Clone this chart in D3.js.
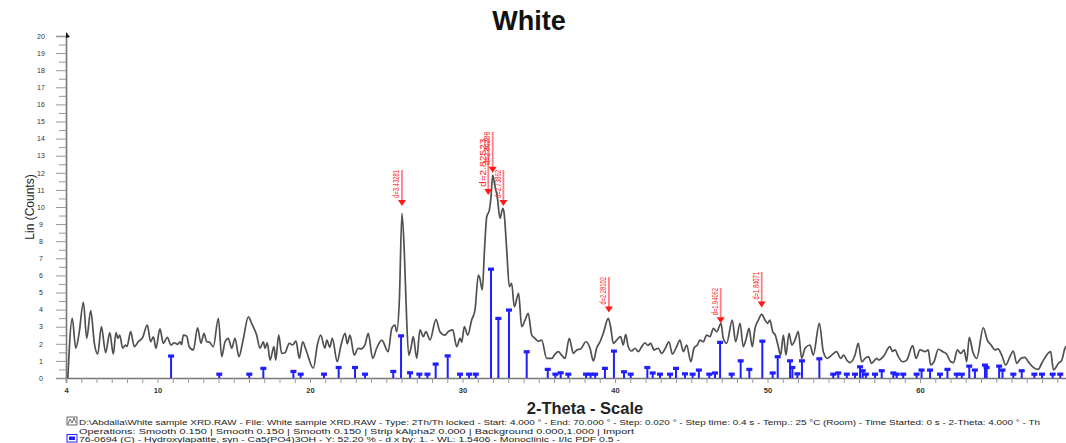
<!DOCTYPE html>
<html>
<head>
<meta charset="utf-8">
<script src="https://cdn.jsdelivr.net/npm/d3@7"></script>
<style>
  html, body { margin: 0; padding: 0; background: #fff; }
  svg { display: block; font-family: "Liberation Sans", Arial, sans-serif; }
</style>
</head>
<body>
<svg id="chart" width="1066" height="443"></svg>
<script>
// ---- Data ----
const patternTheta = [4.12,4.41,4.64,4.86,5.14,5.36,5.62,5.86,6.08,6.32,6.6,6.87,7.1,7.28,7.4,7.52,7.72,7.9,8.0,8.24,8.48,8.74,9.03,9.33,9.55,9.73,9.9,10.16,10.38,10.64,10.89,11.1,11.32,11.48,11.58,11.69,11.91,12.08,12.35,12.63,12.85,13.05,13.23,13.4,13.66,13.99,14.21,14.43,14.64,14.87,15.08,15.34,15.59,15.96,16.17,16.5,16.72,16.94,17.05,17.2,17.38,17.64,17.75,17.95,18.14,18.36,18.64,18.86,19.08,19.3,19.52,19.74,20.22,20.48,20.7,20.98,21.1,21.3,21.46,21.79,22.01,22.3,22.45,22.62,22.9,23.16,23.35,23.6,23.82,24.11,24.37,24.7,25.13,25.36,25.57,25.68,25.86,26.03,26.18,26.3,26.47,26.62,26.77,27.0,27.21,27.43,27.6,27.87,28.26,28.52,28.85,29.06,29.36,29.62,29.84,29.95,30.12,30.34,30.6,30.82,31.04,31.12,31.3,31.43,31.59,31.76,31.87,31.98,32.13,32.28,32.46,32.64,32.72,32.9,33.07,33.22,33.4,33.68,33.88,34.1,34.31,34.54,34.75,34.97,35.19,35.52,35.85,36.07,36.28,36.5,36.72,37.0,37.27,37.49,37.75,38.1,38.36,38.58,38.8,39.02,39.23,39.56,39.71,39.89,40.11,40.37,40.54,40.7,40.87,41.09,41.31,41.53,41.75,41.97,42.15,42.34,42.56,42.84,43.06,43.3,43.54,43.76,44.04,44.26,44.48,44.7,44.97,45.18,45.4,45.57,45.79,46.01,46.23,46.45,46.67,46.95,47.1,47.32,47.69,47.91,48.2,48.41,48.6,48.79,49.0,49.18,49.4,49.62,49.84,50.01,50.16,50.34,50.51,50.71,50.86,51.04,51.21,51.41,51.59,51.8,52.02,52.24,52.46,52.79,53.0,53.4,53.66,53.92,54.21,54.53,54.8,55.0,55.19,55.41,55.74,55.95,56.18,56.4,56.61,56.83,57.16,57.3,57.59,58.03,58.2,58.36,58.58,58.86,59.13,59.52,59.74,60.0,60.33,60.54,60.7,60.92,61.2,61.49,61.75,62.01,62.2,62.45,62.67,62.89,63.06,63.23,63.46,63.72,64.15,64.41,64.66,64.92,65.1,65.36,65.62,65.9,66.12,66.34,66.62,66.88,67.1,67.43,67.76,67.98,68.57,68.75,69.08,69.3,69.51,69.8];
const patternCounts = [0,3.49,1.74,2.63,4.43,2.32,3.94,2.03,1.40,3.0,1.48,2.65,1.40,2.65,2.32,2.51,1.74,1.93,1.85,2.71,1.83,2.12,2.38,3.1,2.12,2.41,1.74,2.87,2.03,2.38,1.93,2.06,1.97,2.12,1.95,2.51,2.46,1.83,1.64,2.94,2.03,2.61,2.12,2.1,1.83,3.49,1.25,2.12,2.32,1.74,2.32,1.25,2.12,3.58,3.2,2.51,1.74,2.12,1.74,2.06,1.05,1.83,1.05,2.51,1.44,1.48,2.03,1.93,2.16,1.15,2.12,1.64,0.57,1.93,2.51,1.74,2.22,1.8,2.32,0.95,1.83,2.61,2.0,2.51,1.34,1.74,1.7,1.93,2.61,1.15,1.74,2.22,1.54,2.9,3.1,2.7,4.56,9.63,7.49,4.37,1.34,1.74,2.42,1.15,2.81,2.42,2.71,2.22,3.43,2.71,2.51,2.71,2.81,1.83,2.32,2.1,3.0,2.51,3.39,3.98,6.02,5.9,5.15,7.29,9.43,9.82,10.6,11.87,11.19,10.6,9.34,9.92,9.7,7.49,5.34,5.54,4.17,4.95,3.0,3.39,3.78,2.51,2.32,2.15,2.22,1.15,1.15,1.4,1.54,1.34,1.15,2.32,1.44,1.64,1.7,2.12,1.75,1.0,1.75,2.12,2.61,3.49,3.0,2.03,2.22,2.42,1.93,2.55,1.83,1.58,1.74,1.54,1.83,2.06,1.9,2.03,1.64,1.74,1.44,1.74,2.12,1.40,1.83,2.22,1.54,1.93,0.95,1.74,1.93,2.22,2.12,2.51,2.42,2.9,2.71,3.2,2.32,2.03,3.39,2.12,3.2,1.83,2.3,2.9,1.83,2.9,3.39,3.72,3.39,3.2,3.39,2.71,2.51,1.83,1.34,2.51,1.34,2.61,1.93,2.22,2.71,1.15,1.74,1.93,1.34,3.2,1.54,1.15,1.34,1.54,1.15,1.34,1.05,0.9,1.34,2.03,0.95,1.15,1.25,0.86,1.15,1.05,1.25,1.83,1.55,1.64,1.25,0.95,1.05,1.89,1.15,1.64,1.54,1.64,0.76,0.95,1.68,1.54,1.40,0.95,0.9,1.64,1.44,1.64,0.95,2.38,1.54,1.15,2.94,2.22,1.93,1.64,1.7,1.34,0.76,1.25,1.58,0.86,1.15,1.21,0.95,0.62,0.5,0.86,1.54,0.47,0.86,1.05,1.74,2.0];

const stickTheta = [10.89,14.05,16.02,16.94,18.91,19.39,20.92,21.88,22.95,23.61,25.46,25.97,26.56,27.17,27.7,28.24,29.03,29.84,30.43,30.87,31.87,32.35,33.05,34.21,35.59,36.09,36.44,36.94,38.1,38.4,38.7,39.34,39.93,40.59,41.03,42.12,42.47,42.95,43.61,44.0,44.59,45.09,45.5,46.18,46.56,46.89,47.65,48.24,48.81,49.66,50.34,50.67,51.48,51.63,51.96,52.26,53.4,54.31,54.64,55.2,55.74,56.07,56.24,56.45,57.05,57.49,58.25,58.47,58.9,59.78,60.1,60.66,61.31,61.8,62.41,62.74,63.23,63.6,64.26,64.37,65.19,65.41,66.12,66.67,67.5,68.0,68.7,69.2];
const stickCounts = [1.29,0.23,0.23,0.57,0.39,0.23,0.23,0.62,0.62,0.23,0.39,2.47,0.31,0.23,0.23,0.82,1.3,0.23,0.23,0.23,6.37,3.49,3.98,1.54,0.51,0.23,0.31,0.23,0.23,0.23,0.23,0.57,1.58,0.37,0.23,0.62,0.3,0.23,0.23,0.57,0.25,0.23,0.47,0.23,0.3,2.09,0.23,1.01,0.51,2.16,0.3,1.25,1.01,0.62,0.25,1.01,1.13,0.23,0.3,0.23,0.23,0.66,0.43,0.23,0.23,0.43,0.3,0.23,0.23,0.23,0.47,0.47,0.23,0.51,0.23,0.23,0.7,0.47,0.76,0.62,0.7,0.47,0.23,0.43,0.23,0.23,0.23,0.23];

const peakTheta  = [26.03, 31.69, 31.98, 32.68, 39.6, 46.93, 49.62];
const peakCounts = [10.06, 10.7, 12.0, 10.06, 3.83, 3.2, 4.12];
const peakTop    = [12.16, 14.0, 14.4, 12.16, 5.9, 5.26, 6.2];
const peakLabels = ["d=3.43281", "d=2.82523", "d=2.80286", "d=2.73862", "d=2.28102", "d=1.94062", "d=1.84071"];

const yTicks = d3.range(0, 21, 1);
const xTickLabels = [4, 10, 20, 30, 40, 50, 60];

const titleText = "White";
const xTitle = "2-Theta - Scale";
const yTitle = "Lin (Counts)";
const infoLines = [
  "D:\\Abdalla\\White sample XRD.RAW - File: White sample XRD.RAW - Type: 2Th/Th locked - Start: 4.000 \u00b0 - End: 70.000 \u00b0 - Step: 0.020 \u00b0 - Step time: 0.4 s - Temp.: 25 \u00b0C (Room) - Time Started: 0 s - 2-Theta: 4.000 \u00b0 - Th",
  "Operations: Smooth 0.150 | Smooth 0.150 | Smooth 0.150 | Strip kAlpha2 0.000 | Background 0.000,1.000 | Import",
  "76-0694 (C) - Hydroxylapatite, syn - Ca5(PO4)3OH - Y: 52.20 % - d x by: 1. - WL: 1.5406 - Monoclinic - I/Ic PDF 0.5 -"
];

// ---- Layout ----
const svg = d3.select("#chart");
const x0 = 66, yBase = 378, yTopPx = 36;
const x = d3.scaleLinear().domain([4, 70]).range([x0, x0 + 66 * 15.25]);
const y = d3.scaleLinear().domain([0, 20]).range([yBase, yTopPx]);

// Title
svg.append("text").attr("x", 529).attr("y", 30).attr("text-anchor", "middle")
  .attr("font-size", 27).attr("font-weight", "bold").attr("fill", "#111").text(titleText);

// Y axis
const yAxis = d3.axisLeft(y).tickValues(yTicks).tickSize(10).tickPadding(11)
  .tickFormat(d3.format("d"));
const gy = svg.append("g").attr("transform", `translate(${x0},0)`).call(yAxis);
gy.select(".domain").attr("stroke", "#777").attr("stroke-width", 1.6);
gy.selectAll(".tick line").attr("stroke", "#999").attr("stroke-width", 1);
gy.selectAll(".tick text").attr("font-size", 7).attr("fill", "#333")
  .attr("font-family", "Liberation Sans, Arial, sans-serif").attr("text-anchor", "middle").attr("dx", -4);
// minor y ticks
const gyMinor = d3.axisLeft(y).tickValues(d3.range(0.5, 20, 1)).tickSize(7).tickFormat("");
const gym = svg.append("g").attr("transform", `translate(${x0},0)`).call(gyMinor);
gym.select(".domain").remove();
gym.selectAll(".tick line").attr("stroke", "#999");
// small arrow at top of y axis
svg.append("path").attr("d", `M${x0},${yTopPx - 4} L${x0 + 4},${yTopPx + 1} L${x0},${yTopPx + 2} Z`).attr("fill", "#111");

// X axis
const xAxis = d3.axisBottom(x).tickValues(d3.range(4, 71, 1)).tickSize(5).tickPadding(5)
  .tickFormat(d => xTickLabels.includes(d) ? d : "");
const gx = svg.append("g").attr("transform", `translate(0,${yBase})`).call(xAxis);
gx.select(".domain").attr("stroke", "#777").attr("stroke-width", 1.6);
gx.selectAll(".tick line").attr("stroke", "#999");
gx.selectAll(".tick text").attr("font-size", 7.5).attr("font-weight", "bold").attr("fill", "#333")
  .attr("font-family", "Liberation Sans, Arial, sans-serif");

// Axis titles
svg.append("text").attr("x", 585).attr("y", 414).attr("text-anchor", "middle")
  .attr("font-size", 16.5).attr("font-weight", "bold").attr("fill", "#222").text(xTitle);
svg.append("text").attr("transform", `translate(34,207) rotate(-90)`).attr("text-anchor", "middle")
  .attr("font-size", 12).attr("fill", "#222").text(yTitle);

// Reference sticks
const sticks = stickTheta.map((t, i) => ({ t, c: stickCounts[i] }));
const gs = svg.append("g");
gs.selectAll("line").data(sticks).join("line")
  .attr("x1", d => x(d.t)).attr("x2", d => x(d.t))
  .attr("y1", y(0)).attr("y2", d => y(d.c))
  .attr("stroke", "#1f1fff").attr("stroke-width", 2);
gs.selectAll("rect").data(sticks).join("rect")
  .attr("x", d => x(d.t) - 3).attr("y", d => y(d.c) - 1.5)
  .attr("width", 6).attr("height", 3.2).attr("fill", "#1f1fff");

// Pattern line
const pattern = patternTheta.map((t, i) => [t, patternCounts[i]]);
const line = d3.line().x(d => x(d[0])).y(d => y(d[1])).curve(d3.curveMonotoneX);
svg.append("path").datum(pattern).attr("d", line)
  .attr("fill", "none").attr("stroke", "#505050").attr("stroke-width", 1.7).attr("stroke-linejoin", "round");

// Peak markers
const peaks = peakTheta.map((t, i) => ({ t, c: peakCounts[i], top: peakTop[i], label: peakLabels[i] }));
const gp = svg.append("g");
peaks.forEach(p => {
  const px = x(p.t), py = y(p.c), pt = y(p.top);
  gp.append("line").attr("x1", px).attr("x2", px).attr("y1", py - 5).attr("y2", pt)
    .attr("stroke", "#ff8080").attr("stroke-width", 1.8);
  gp.append("path").attr("d", `M${px - 4},${py - 6} L${px + 4},${py - 6} L${px},${py} Z`).attr("fill", "#ff1a1a");
  const len = (py - 8) - pt;
  gp.append("text").attr("transform", `translate(${px - 2.5},${pt}) rotate(-90)`)
    .attr("text-anchor", "end").attr("font-size", 8.5).attr("fill", "#ff2020")
    .attr("textLength", Math.max(10, len)).attr("lengthAdjust", "spacingAndGlyphs")
    .text(p.label);
});

// Info lines at the bottom
const infoY = [424.5, 433.5, 442];
const infoX = [79, 79, 79];
const infoW = [961, 555, 541];
infoLines.forEach((s, i) => {
  svg.append("text").attr("x", infoX[i]).attr("y", infoY[i]).attr("font-size", 7.8).attr("fill", "#222")
    .attr("textLength", infoW[i]).attr("lengthAdjust", "spacingAndGlyphs").text(s);
});
// icon line 1 (pattern file)
svg.append("rect").attr("x", 67).attr("y", 417).attr("width", 10).attr("height", 8).attr("fill", "#fff").attr("stroke", "#444").attr("stroke-width", 0.8);
svg.append("path").attr("d", "M68,424 L70,419 L72,423 L74,418 L76,423").attr("fill", "none").attr("stroke", "#444").attr("stroke-width", 0.8);
// icon line 3 (reference pattern)
svg.append("rect").attr("x", 67).attr("y", 434.5).attr("width", 10).attr("height", 7.5).attr("fill", "#fff").attr("stroke", "#1f1fff").attr("stroke-width", 1);
svg.append("rect").attr("x", 69).attr("y", 436.5).attr("width", 6).attr("height", 3.5).attr("fill", "#1f1fff");
</script>
</body>
</html>
